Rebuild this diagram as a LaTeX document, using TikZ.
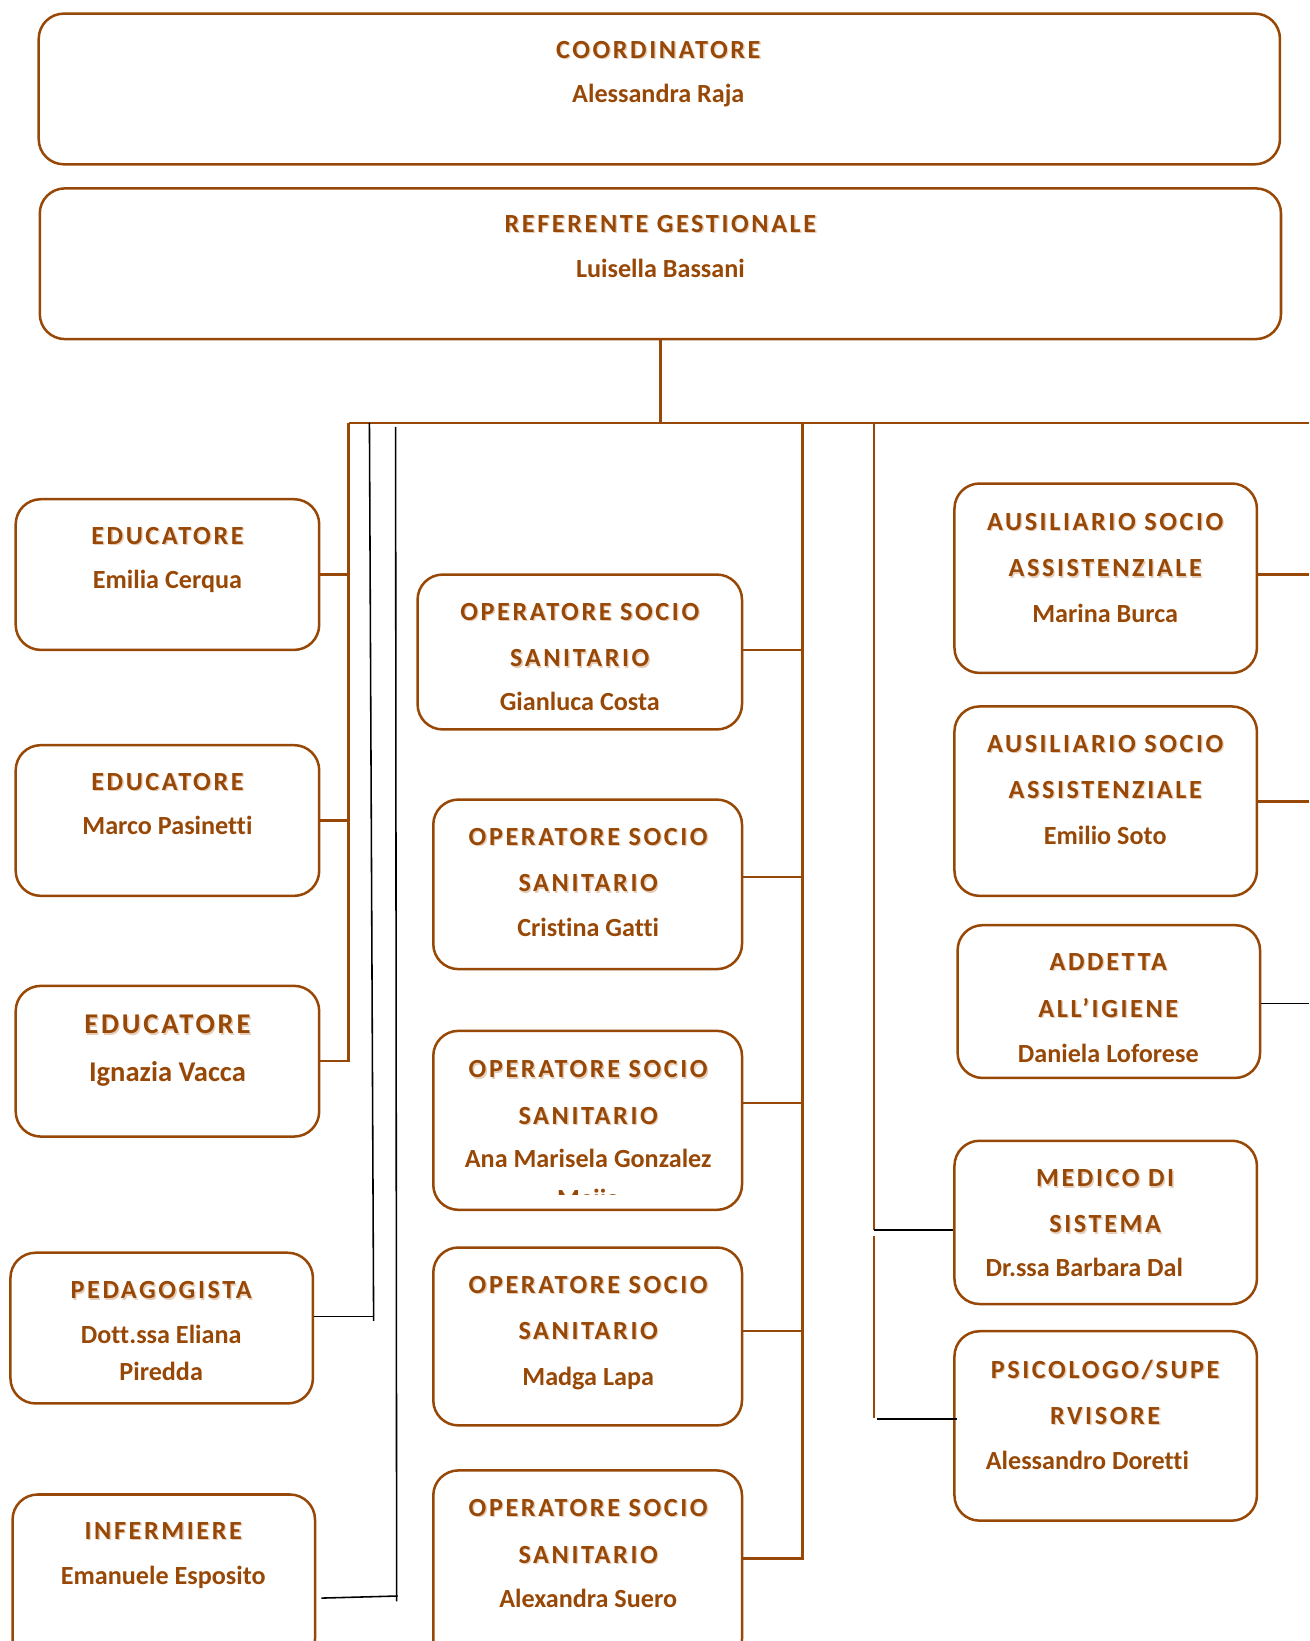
\documentclass[tikz,border=0pt]{standalone}
\usepackage{fontspec}
\setmainfont{Carlito}[Ligatures=NoCommon]
\newfontfamily\ttlfont{Carlito}[LetterSpace=10,Ligatures=NoCommon]
\usetikzlibrary{fit}
\definecolor{br}{HTML}{984806}
\definecolor{brs}{HTML}{E6CDB9}
\tikzset{
  bx/.style={draw=br, line width=2.4pt, rounded corners=24pt, inner sep=0pt},
  ln/.style={draw=br, line width=2.4pt},
  bk/.style={draw=black, line width=1.5pt},
  nm/.style={text=br, font=\fontsize{25}{30}\selectfont\bfseries, inner sep=0pt, anchor=base},
  nmb/.style={text=br, font=\fontsize{27.3}{32}\selectfont\bfseries, inner sep=0pt, anchor=base},
  tt/.style={text=br, font=\fontsize{25}{30}\selectfont\ttlfont\bfseries, inner sep=0pt, anchor=base},
  ts/.style={text=brs, font=\fontsize{25}{30}\selectfont\ttlfont\bfseries, inner sep=0pt, anchor=base},
  ttb/.style={text=br, font=\fontsize{27.3}{32}\selectfont\ttlfont\bfseries, inner sep=0pt, anchor=base},
  tsb/.style={text=brs, font=\fontsize{27.3}{32}\selectfont\ttlfont\bfseries, inner sep=0pt, anchor=base},
}
\newcommand\Bx[5]{\node[bx, fit={(#2,#3) (#4,#5)}] (#1) {};}
\newcommand\Tt[4]{\node[ts] (#1s) at (#2+1.3,#3+9.3) {#4};\node[tt] (#1) at (#2,#3+8) {#4};}
\newcommand\Ttb[4]{\node[tsb] (#1s) at (#2+1.3,#3+10) {#4};\node[ttb] (#1) at (#2,#3+8.7) {#4};}
\newcommand\Nm[4]{\node[nm] (#1) at (#2,#3+8) {#4};}
\begin{document}
\begin{tikzpicture}[x=1pt,y=-1pt]
\useasboundingbox (0,0) rectangle (1251,1568);
\clip (0,0) rectangle (1251,1568);
% boxes
\Bx{coord}{37}{13}{1223}{157}
\Bx{ref}{38}{180}{1224}{324}
\Bx{edu1}{15}{477}{305}{621}
\Bx{edu2}{15}{712}{305}{856}
\Bx{edu3}{15}{942}{305}{1086}
\Bx{ped}{10}{1197}{299}{1341}
\Bx{inf}{12}{1428}{301}{1590}
\Bx{oss1}{399}{549}{709}{697}
\Bx{oss2}{414}{764}{709}{926}
\Bx{oss3}{414}{985}{709}{1156}
\Bx{oss4}{414}{1192}{709}{1362}
\Bx{oss5}{414}{1405}{709}{1590}
\Bx{aus1}{912}{462}{1201}{643}
\Bx{aus2}{912}{675}{1201}{856}
\Bx{add}{915}{884}{1204}{1030}
\Bx{med}{912}{1090}{1201}{1246}
\Bx{psi}{912}{1272}{1201}{1453}
% texts
\Tt{t1}{629}{48}{COORDINATORE}
\Nm{n1}{629}{90}{Alessandra Raja}
\Tt{t2}{631}{214}{REFERENTE GESTIONALE}
\Nm{n2}{631}{257}{Luisella Bassani}
\Tt{t3}{160}{512}{EDUCATORE}
\Nm{n3}{160}{554}{Emilia Cerqua}
\Tt{t4}{160}{747}{EDUCATORE}
\Nm{n4}{160}{789}{Marco Pasinetti}
\Ttb{t5}{160}{979}{EDUCATORE}
\node[nmb] (n5) at (160,1033.7) {Ignazia Vacca};
\Tt{t6}{154}{1233}{PEDAGOGISTA}
\Nm{n6}{154}{1276}{Dott.ssa Eliana}
\Nm{n6b}{154}{1311}{Piredda}
\Tt{t7}{156}{1463}{INFERMIERE}
\Nm{n7}{156}{1506}{Emanuele Esposito}
\Tt{t8}{554}{585}{OPERATORE SOCIO}
\Tt{t8b}{554}{629}{SANITARIO}
\Nm{n8}{554}{671}{Gianluca Costa}
\Tt{t9}{562}{800}{OPERATORE SOCIO}
\Tt{t9b}{562}{844}{SANITARIO}
\Nm{n9}{562}{887}{Cristina Gatti}
\Tt{t10}{562}{1022}{OPERATORE SOCIO}
\Tt{t10b}{562}{1066}{SANITARIO}
\Nm{n10}{562}{1108}{Ana Marisela Gonzalez}
\begin{scope}
\clip (414,1100) rectangle (709,1141);
\node[nm] (n10b) at (562,1154) {Mejia};
\end{scope}
\Tt{t11}{562}{1228}{OPERATORE SOCIO}
\Tt{t11b}{562}{1272}{SANITARIO}
\Nm{n11}{562}{1316}{Madga Lapa}
\Tt{t12}{562}{1441}{OPERATORE SOCIO}
\Tt{t12b}{562}{1486}{SANITARIO}
\Nm{n12}{562}{1528}{Alexandra Suero}
\Tt{t13}{1056}{499}{AUSILIARIO SOCIO}
\Tt{t13b}{1056}{543}{ASSISTENZIALE}
\Nm{n13}{1056}{587}{Marina Burca}
\Tt{t14}{1056}{711}{AUSILIARIO SOCIO}
\Tt{t14b}{1056}{755}{ASSISTENZIALE}
\Nm{n14}{1056}{799}{Emilio Soto}
\Tt{t15}{1059}{919}{ADDETTA}
\Tt{t15b}{1059}{964}{ALL’IGIENE}
\Nm{n15}{1059}{1007}{Daniela Loforese}
\Tt{t16}{1056}{1126}{MEDICO DI}
\Tt{t16b}{1056}{1170}{SISTEMA}
\Nm{n16}{1036}{1212}{Dr.ssa Barbara Dal}
\Tt{t17}{1056}{1309}{PSICOLOGO/SUPE}
\Tt{t17b}{1056}{1353}{RVISORE}
\Nm{n17}{1039}{1396}{Alessandro Doretti}
% junction coordinates
\coordinate (B0) at (631,404);
\coordinate (BL) at (333,404);
\coordinate (BR) at (1251,404);
\coordinate (M) at (767,404);
\coordinate (RV) at (835,404);
\coordinate (M1) at (767,621);
\coordinate (M2) at (767,838);
\coordinate (M3) at (767,1054);
\coordinate (M4) at (767,1272);
\coordinate (M5) at (767,1489);
\coordinate (RV1) at (835,1175);
\coordinate (RV2) at (835,1181);
\coordinate (RV3) at (835,1355);
\coordinate (RV4) at (838,1356);
\coordinate (E1) at (1251,549);
\coordinate (E2) at (1251,766);
\coordinate (E3) at (1251,959);
\coordinate (K1t) at (353,404);
\coordinate (K1b) at (357,1262);
\coordinate (P1) at (357,1258);
\coordinate (K2t) at (378,408);
\coordinate (K2b) at (379,1530);
\coordinate (I0) at (307,1527);
\coordinate (I1) at (380,1525);
% brown connectors
\draw[ln] (ref.south) -- (B0);
\draw[ln] (BL) -- (BR);
\draw[ln] (BL) -- (BL |- edu3.east) -- (edu3.east);
\draw[ln] (edu1.east) -- (edu1.east -| BL);
\draw[ln] (edu2.east) -- (edu2.east -| BL);
\draw[ln] (M) -- (M5) -- (M5 -| oss5.east);
\draw[ln] (M1) -- (M1 -| oss1.east);
\draw[ln] (M2) -- (M2 -| oss2.east);
\draw[ln] (M3) -- (M3 -| oss3.east);
\draw[ln] (M4) -- (M4 -| oss4.east);
\draw[ln] (RV) -- (RV1);
\draw[ln] (RV2) -- (RV3);
\draw[ln] (aus1.east |- E1) -- (E1);
\draw[ln] (aus2.east |- E2) -- (E2);
% black connectors
\draw[bk] (RV1) -- (RV1 -| med.west);
\draw[bk] (RV4) -- ([xshift=4pt]RV4 -| psi.west);
\draw[bk] (add.east |- E3) -- (E3);
\draw[bk] (K1t) -- (K1b);
\draw[bk] (ped.east |- P1) -- (P1);
\draw[bk] (K2t) -- (K2b);
\draw[bk] (I0) -- (I1);
\end{tikzpicture}
\end{document}
